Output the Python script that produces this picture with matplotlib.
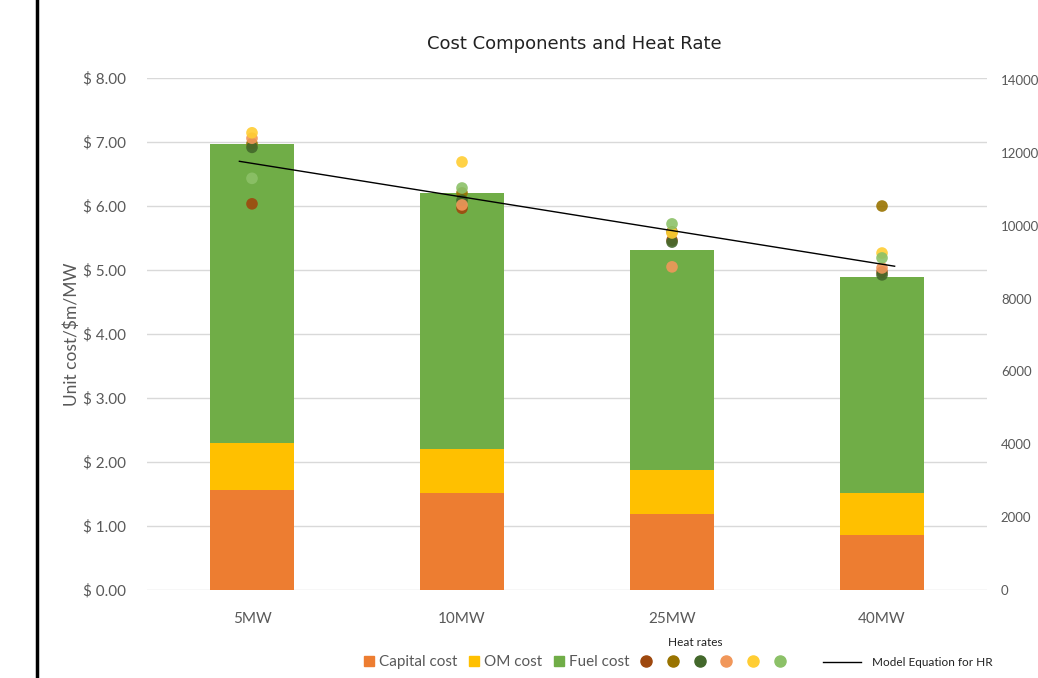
import matplotlib.pyplot as plt
import numpy as np
from matplotlib.lines import Line2D
from matplotlib.patches import Patch

# Data
sizes = ["5MW", "10MW", "25MW", "40MW"]
capital_cost = [1.56, 1.52, 1.19, 0.86]
om_cost = [0.74, 0.68, 0.69, 0.66]
fuel_cost = [4.67, 4.00, 3.43, 3.37]

# heat rate observations (six sources per size)
hr_brown = [10600, 10480, 9600, 8730]
hr_olive = [12250, 10900, 9830, 10540]
hr_darkgreen = [12150, 10700, 9550, 8650]
hr_lightorange = [12400, 10570, 8870, 8840]
hr_yellow = [12550, 11750, 9800, 9250]
hr_lightgreen = [11300, 11035, 10050, 9115]
hr_model = [11720, 10780, 9860, 8950]

right_ticks = [0, 2000, 4000, 6000, 8000, 10000, 12000, 14000]

c_cap, c_om, c_fuel = "#ED7D31", "#FFC000", "#70AD47"
dot_colors = ["#9E480E", "#997300", "#43682B", "#F1975A", "#FFCD33", "#8CC168"]
hr_series = [hr_brown, hr_olive, hr_darkgreen, hr_lightorange, hr_yellow, hr_lightgreen]

plt.rcParams['font.family'] = ['Lato', 'DejaVu Sans']
grey = "#595959"

fig = plt.figure(figsize=(10.38, 6.78), dpi=100)
ax = fig.add_axes([0.1416, 0.1298, 0.8093, 0.7552])
x = np.arange(len(sizes))
w = 0.4

cap = np.array(capital_cost)
om = np.array(om_cost)
fuel = np.array(fuel_cost)
ax.bar(x, cap, w, color=c_cap, zorder=2)
ax.bar(x, om, w, bottom=cap, color=c_om, zorder=2)
ax.bar(x, fuel, w, bottom=cap + om, color=c_fuel, zorder=2)

ax.set_xlim(-0.5, 3.5)
ax.set_ylim(0, 8)
ax.set_yticks(range(0, 9))
ax.set_yticklabels([f"$ {v:.2f}" for v in range(0, 9)])
ax.set_xticks(x)
ax.set_xticklabels(sizes)
ax.grid(axis='y', color="#D9D9D9", linewidth=1, zorder=0)
ax.set_axisbelow(True)
for s in ax.spines.values():
    s.set_visible(False)
ax.tick_params(axis='y', length=0, pad=15, labelsize=11, labelcolor=grey)
ax.tick_params(axis='x', length=0, pad=16, labelsize=11, labelcolor=grey)
ax.set_ylabel("Unit cost/$m/MW", fontsize=12.5, color=grey, labelpad=2)

ax2 = ax.twinx()
ax2.set_ylim(0, 14055)
ax2.set_yticks(right_ticks)
for s in ax2.spines.values():
    s.set_visible(False)
ax2.tick_params(axis='y', length=0, pad=10, labelsize=9.5, labelcolor=grey)

for vals, col in zip(hr_series, dot_colors):
    ax2.scatter(x, vals, s=70, color=col, alpha=0.9, edgecolors='none', zorder=3)

# model equation: straight line through the model values, slightly past the end bars
coef = np.polyfit(x, hr_model, 1)
xl = np.array([-0.06, 3.06])
ax2.plot(xl, np.polyval(coef, xl), color="black", linewidth=1, zorder=4)

fig.text(0.553, 0.935, "Cost Components and Heat Rate", ha='center', va='center',
         fontsize=13, color="#222222", family=['DejaVu Sans'])

# legend: costs and heat-rate dots
handles = [Patch(color=c_cap, label="Capital cost"),
           Patch(color=c_om, label="OM cost"),
           Patch(color=c_fuel, label="Fuel cost")]
for col in dot_colors:
    handles.append(Line2D([], [], marker='o', linestyle='none', color=col,
                          markersize=8, label=''))
leg = fig.legend(handles=handles, loc='center left', bbox_to_anchor=(0.343, 0.023), ncol=9,
                 frameon=False, fontsize=11, handlelength=0.7, handletextpad=0.3,
                 columnspacing=0.75, borderpad=0)
for t in leg.get_texts():
    t.set_color(grey)

# legend: model line
leg2 = fig.legend(handles=[Line2D([], [], color='black', linewidth=1,
                                  label="Model Equation for HR")],
                  loc='center left', bbox_to_anchor=(0.787, 0.023), frameon=False,
                  fontsize=8.5, handlelength=3.2, handletextpad=1.0, borderpad=0)
leg2.get_texts()[0].set_color("#222222")

fig.text(0.67, 0.053, "Heat rates", ha='center', va='center', fontsize=8.5, color="#222222")

# border line on the left
fig.add_artist(Line2D([0.0356, 0.0356], [0, 1], color='black', linewidth=2.5,
                      transform=fig.transFigure))

fig.savefig("out.png", dpi=100)
